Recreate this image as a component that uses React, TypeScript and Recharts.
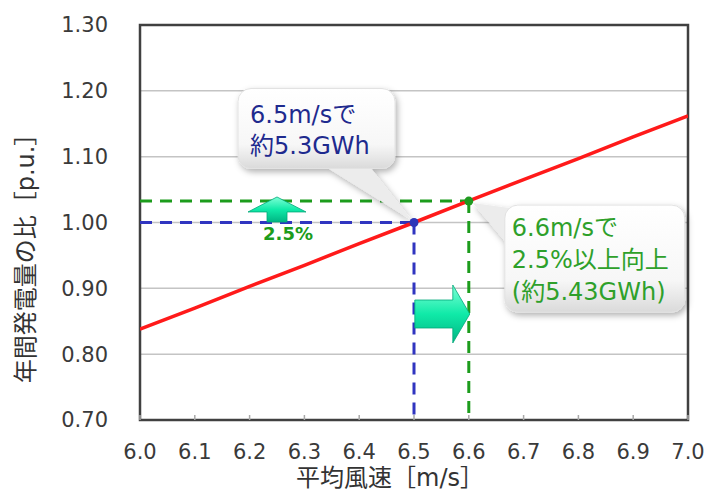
import React from 'react';
import {
  ComposedChart,
  Line,
  XAxis,
  YAxis,
  CartesianGrid,
  ReferenceLine,
  ReferenceDot,
  ReferenceArea,
  Label,
} from 'recharts';

const windSpeeds = [6.0, 6.1, 6.2, 6.3, 6.4, 6.5, 6.6, 6.7, 6.8, 6.9, 7.0];
const energyRatios = [0.838, 0.870, 0.903, 0.935, 0.968, 1.0, 1.033, 1.065, 1.097, 1.13, 1.162];
const xTicks = [6.0, 6.1, 6.2, 6.3, 6.4, 6.5, 6.6, 6.7, 6.8, 6.9, 7.0];
const yTicks = [0.7, 0.8, 0.9, 1.0, 1.1, 1.2, 1.3];

// reference point and improved point
const basePoint = { speed: 6.5, ratio: 1.0 };
const upPoint = { speed: 6.6, ratio: 1.0325 };
const baseNote = ['6.5m/sで', '約5.3GWh'];
const upNote = ['6.6m/sで', '2.5%以上向上', '(約5.43GWh)'];
const gainText = '2.5%';
const gainArrowAt = { speed: 6.25, ratio: 1.016 };
const speedArrowAt = { speed: 6.6, ratio: 0.861 };

const FONT = '"DejaVu Sans", "Noto Sans CJK JP", sans-serif';
const BLUE = '#3035c0';
const GREEN = '#1c9c1c';

const data = windSpeeds.map((s, i) => ({ speed: s, ratio: energyRatios[i] }));

function Defs() {
  return (
    <defs>
      <linearGradient id="noteFill" x1="0" y1="0" x2="0" y2="1">
        <stop offset="0%" stopColor="#ffffff" />
        <stop offset="70%" stopColor="#f7f7f7" />
        <stop offset="100%" stopColor="#dadada" />
      </linearGradient>
      <linearGradient id="arrowFill" x1="0" y1="0" x2="0" y2="1">
        <stop offset="0%" stopColor="#7dffd6" />
        <stop offset="50%" stopColor="#10eaa8" />
        <stop offset="100%" stopColor="#00b583" />
      </linearGradient>
      <filter id="noteShadow" x="-30%" y="-30%" width="160%" height="160%">
        <feDropShadow dx="2" dy="3" stdDeviation="3" floodColor="#000" floodOpacity="0.3" />
      </filter>
    </defs>
  );
}

function Callout(props: any) {
  const { cx, cy, box, tail, lines, color, withDefs } = props;
  const x = cx + box.dx;
  const y = cy + box.dy;
  const pts = tail.map(([dx, dy]: number[]) => `${cx + dx},${cy + dy}`).join(' ');
  return (
    <g>
      {withDefs && <Defs />}
      <g filter="url(#noteShadow)">
        <polygon points={pts} fill="#ececec" />
        <rect x={x} y={y} width={box.w} height={box.h} rx={13} fill="url(#noteFill)" stroke="#e2e2e2" />
      </g>
      {lines.map((t: string, i: number) => (
        <text
          key={i}
          x={x + box.tx}
          y={y + box.ty + i * box.lh}
          fill={color}
          fontSize={24}
          fontFamily={FONT}
        >
          {t}
        </text>
      ))}
    </g>
  );
}

function UpArrow(props: any) {
  const { cx, cy } = props;
  const p = [
    [0, -15],
    [29, 0],
    [10, 0],
    [10, 10],
    [-10, 10],
    [-10, 0],
    [-29, 0],
  ]
    .map(([dx, dy]) => `${cx + dx},${cy + dy}`)
    .join(' ');
  return (
    <g>
      <polygon points={p} fill="url(#arrowFill)" stroke="#00a878" strokeWidth={0.8} />
      <text
        x={cx + 11}
        y={cy + 22}
        textAnchor="middle"
        dominantBaseline="central"
        fill={GREEN}
        fontSize={18}
        fontWeight="bold"
        fontFamily={FONT}
      >
        {gainText}
      </text>
    </g>
  );
}

function RightArrow(props: any) {
  const { cx, cy } = props;
  const p = [
    [1, 0],
    [-16, -29],
    [-16, -14],
    [-54, -14],
    [-54, 14],
    [-16, 14],
    [-16, 29],
  ]
    .map(([dx, dy]) => `${cx + dx},${cy + dy}`)
    .join(' ');
  return <polygon points={p} fill="url(#arrowFill)" stroke="#00a878" strokeWidth={0.8} />;
}

export default function App() {
  return (
    <div style={{ position: 'absolute', left: 0, top: 0 }}>
      <ComposedChart
        width={707}
        height={492}
        data={data}
        margin={{ top: 25, right: 19, left: 0, bottom: 0 }}
      >
        <CartesianGrid horizontal vertical={false} stroke="#c4c4c4" strokeWidth={1.5} />
        <XAxis
          dataKey="speed"
          type="number"
          domain={[6, 7]}
          ticks={xTicks}
          allowDataOverflow
          height={72}
          axisLine={false}
          tickSize={-5}
          tickMargin={29}
          tickLine={{ stroke: '#a8a8a8', strokeWidth: 1.5 }}
          tickFormatter={(v: number) => v.toFixed(1)}
          tick={{ fill: '#3a3a3a', fontSize: 21, fontFamily: FONT }}
        >
          <Label
            content={(p: any) => {
              const vb = p.viewBox || { x: 140, y: 420, width: 548 };
              return (
                <text
                  x={vb.x + vb.width / 2 - 24}
                  y={vb.y + 58}
                  textAnchor="middle"
                  dominantBaseline="central"
                  fill="#333"
                  fontSize={24}
                  fontFamily={FONT}
                >
                  平均風速［m/s］
                </text>
              );
            }}
          />
        </XAxis>
        <YAxis
          type="number"
          domain={[0.7, 1.3]}
          ticks={yTicks}
          allowDataOverflow
          width={140}
          axisLine={false}
          tickLine={false}
          tickSize={0}
          tickMargin={32}
          tickFormatter={(v: number) => v.toFixed(2)}
          tick={{ fill: '#3a3a3a', fontSize: 21, fontFamily: FONT }}
        >
          <Label
            content={(p: any) => {
              const vb = p.viewBox || { x: 0, y: 25, height: 395 };
              const lx = vb.x + 26;
              const ly = vb.y + vb.height / 2 + 30;
              return (
                <text
                  x={lx}
                  y={ly}
                  transform={`rotate(-90 ${lx} ${ly})`}
                  textAnchor="middle"
                  dominantBaseline="central"
                  fill="#333"
                  fontSize={24}
                  fontFamily={FONT}
                >
                  年間発電量の比［p.u.］
                </text>
              );
            }}
          />
        </YAxis>
        <ReferenceArea x1={6} x2={7} y1={0.7} y2={1.3} fill="none" stroke="#404040" strokeWidth={2.5} />
        <ReferenceLine
          segment={[{ x: 6, y: upPoint.ratio }, { x: upPoint.speed, y: upPoint.ratio }]}
          stroke={GREEN}
          strokeWidth={3}
          strokeDasharray="12 8"
        />
        <ReferenceLine
          segment={[{ x: upPoint.speed, y: upPoint.ratio }, { x: upPoint.speed, y: 0.7 }]}
          stroke={GREEN}
          strokeWidth={3}
          strokeDasharray="12 8"
        />
        <ReferenceLine
          segment={[{ x: 6, y: basePoint.ratio }, { x: basePoint.speed, y: basePoint.ratio }]}
          stroke={BLUE}
          strokeWidth={3}
          strokeDasharray="12 8"
        />
        <ReferenceLine
          segment={[{ x: basePoint.speed, y: basePoint.ratio }, { x: basePoint.speed, y: 0.7 }]}
          stroke={BLUE}
          strokeWidth={3}
          strokeDasharray="12 8"
        />
        <Line
          type="linear"
          dataKey="ratio"
          stroke="#ff1a1a"
          strokeWidth={3.5}
          dot={false}
          activeDot={false}
          isAnimationActive={false}
        />
        <ReferenceDot
          x={basePoint.speed}
          y={basePoint.ratio}
          r={1}
          shape={(p: any) => (
            <Callout
              cx={p.cx}
              cy={p.cy}
              withDefs
              color="#1e2a8e"
              lines={baseNote}
              box={{ dx: -176, dy: -134, w: 157, h: 80, tx: 12, ty: 34, lh: 31 }}
              tail={[[-92, -58], [-46, -58], [-2, -2]]}
            />
          )}
        />
        <ReferenceDot
          x={upPoint.speed}
          y={upPoint.ratio}
          r={1}
          shape={(p: any) => (
            <Callout
              cx={p.cx}
              cy={p.cy}
              color="#2ea02a"
              lines={upNote}
              box={{ dx: 36, dy: 4, w: 180, h: 107, tx: 7, ty: 31, lh: 32 }}
              tail={[[4, 2], [62, 10], [40, 45]]}
            />
          )}
        />
        <ReferenceDot x={gainArrowAt.speed} y={gainArrowAt.ratio} r={1} shape={(p: any) => <UpArrow cx={p.cx} cy={p.cy} />} />
        <ReferenceDot x={speedArrowAt.speed} y={speedArrowAt.ratio} r={1} shape={(p: any) => <RightArrow cx={p.cx} cy={p.cy} />} />
        <ReferenceDot x={basePoint.speed} y={basePoint.ratio} r={4.5} fill="#2e36b8" stroke="none" />
        <ReferenceDot x={upPoint.speed} y={upPoint.ratio} r={4.5} fill="#1f9a1f" stroke="none" />
      </ComposedChart>
    </div>
  );
}
